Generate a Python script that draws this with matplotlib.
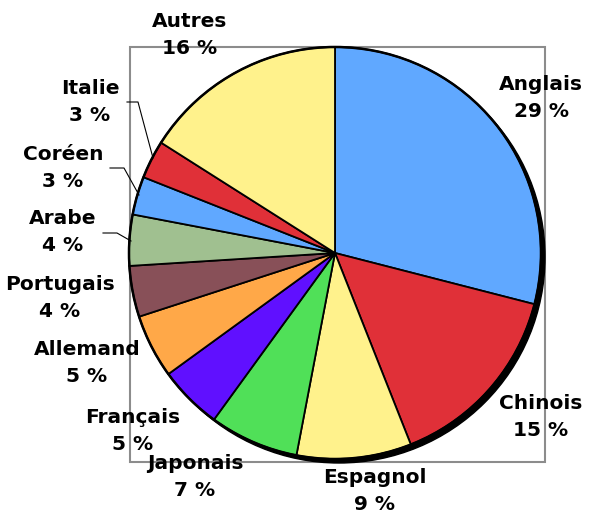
import matplotlib.pyplot as plt
from matplotlib.patches import Circle, Rectangle

# Share of languages (%)
langues = ["Anglais", "Chinois", "Espagnol", "Japonais", "Français", "Allemand",
           "Portugais", "Arabe", "Coréen", "Italie", "Autres"]
parts = [29, 15, 9, 7, 5, 5, 4, 4, 3, 3, 16]
couleurs = ["#60A8FF", "#E03038", "#FFF28C", "#50E058", "#6010FF", "#FFA848",
            "#885058", "#A0C090", "#60A8FF", "#E03038", "#FFF28C"]

# label anchor points (pixel space, y down)
label_pos = [(541, 98), (541, 417), (375, 491), (195, 477), (133, 431), (87, 363),
             (60, 298), (63, 232), (63, 168), (90, 102), (190, 35)]

W, H = 594, 514
fig = plt.figure(figsize=(W / 100, H / 100), dpi=100)
ax = fig.add_axes([0, 0, 1, 1])

cx, cy, r = 335, H - 253, 206

# plot area frame
ax.add_patch(Rectangle((130, H - 462), 415, 415, fill=False,
                       edgecolor="#8C8C8C", lw=1.5, zorder=0))

# drop shadow
ax.add_patch(Circle((cx + 4, cy - 4), r, color="black", zorder=1))

wedges, _ = ax.pie(parts, colors=couleurs, startangle=90, counterclock=False,
                   center=(cx, cy), radius=r, frame=True,
                   wedgeprops=dict(edgecolor="black", linewidth=1.3))
for w in wedges:
    w.set_zorder(2)
# slightly heavier outline around the disc
ax.add_patch(Circle((cx, cy), r, fill=False, edgecolor="black", lw=1.8, zorder=2.5))
ax.set_xlim(0, W)
ax.set_ylim(0, H)
ax.set_aspect("equal")
ax.axis("off")

for nom, p, (x, y) in zip(langues, parts, label_pos):
    ax.text(x, H - y, f"{nom}\n{p} %", ha="center", va="center",
            fontsize=14.5, fontweight="bold", family="DejaVu Sans",
            linespacing=1.5, zorder=4)

# leader lines for the small slices
leaders = [
    [(127, 102), (138, 102), (153, 158)],
    [(110, 168), (124, 168), (139, 195)],
    [(103, 233), (117, 233), (131, 241)],
]
for pts in leaders:
    xs = [p[0] for p in pts]
    ys = [H - p[1] for p in pts]
    ax.plot(xs, ys, color="black", lw=0.8, zorder=3)

fig.savefig("out.png", dpi=100)
